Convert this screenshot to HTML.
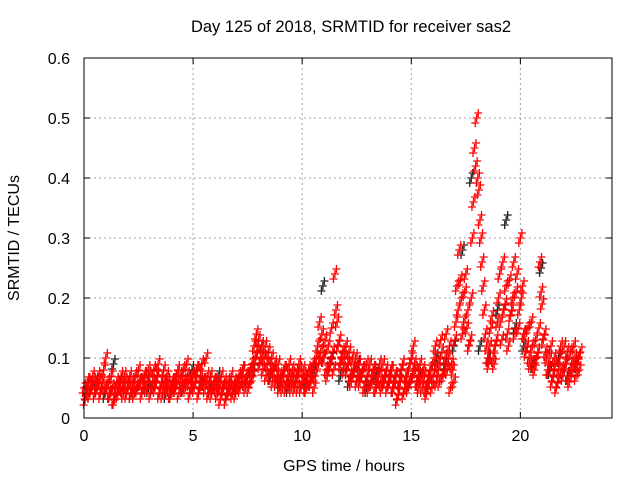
<!DOCTYPE html>
<html><head><meta charset="utf-8"><style>
body{margin:0;background:#fff}
svg text{font-family:"Liberation Sans",sans-serif;font-size:16px;fill:#000}
#chart-title{font-size:16.5px}
</style></head><body>
<svg id="chart" width="640" height="480" xmlns="http://www.w3.org/2000/svg">
<text id="chart-title" x="351" y="32" text-anchor="middle">Day 125 of 2018, SRMTID for receiver sas2</text>
<text x="344" y="471" text-anchor="middle">GPS time / hours</text>
<text transform="translate(19,238) rotate(-90)" text-anchor="middle">SRMTID / TECUs</text>
<g id="grid"></g>
<g id="ticks"></g>
<g id="black"></g>
<g id="red"></g>
<rect x="84" y="58" width="528" height="360" fill="none" stroke="#000" stroke-width="1"/>
</svg>
<script>
const xTicks=[0,5,10,15,20];
const yTicks=[0,0.1,0.2,0.3,0.4,0.5,0.6];
const yTickLabels=["0","0.1","0.2","0.3","0.4","0.5","0.6"];
const red1=[0.05,0.04,0.06,0.05,0.07,0.04,0.05,0.06,0.05,0.08,
0.10,0.06,0.04,0.05,0.03,0.06,0.05,0.07,0.04,0.06,
0.05,0.07,0.06,0.04,0.05,0.08,0.06,0.05,0.07,0.06,
0.07,0.05,0.08,0.06,0.09,0.05,0.04,0.06,0.07,0.05,
0.04,0.06,0.05,0.08,0.07,0.05,0.06,0.09,0.06,0.05,
0.07,0.06,0.08,0.05,0.09,0.06,0.10,0.04,0.07,0.05,
0.06,0.04,0.05,0.07,0.05,0.03,0.06,0.05,0.04,0.06,
0.05,0.07,0.06,0.08,0.05,0.07,0.06,0.09,0.12,0.14,
0.13,0.10,0.08,0.12,0.09,0.07,0.10,0.08,0.06,0.09,
0.07,0.05,0.08,0.06,0.09,0.05,0.07,0.06,0.05,0.08,
0.06,0.07,0.05,0.08,0.06,0.09,0.07,0.12,0.16,0.14,
0.10,0.08,0.12,0.09,0.11,0.24,0.16,0.13,0.10,0.08,
0.12,0.09,0.07,0.10,0.08,0.06,0.09,0.07,0.08,0.06,
0.07,0.09,0.06,0.08,0.05,0.07,0.06,0.09,0.07,0.05,
0.06,0.08,0.05,0.07,0.04,0.06,0.09,0.05,0.07,0.06,
0.10,0.12,0.08,0.06,0.09,0.05,0.07,0.04,0.06,0.08,
0.07,0.12,0.09,0.06,0.11,0.08,0.14,0.10,0.05,0.08,
0.13,0.22,0.28,0.20,0.16,0.24,0.18,0.13,0.30,0.45,
0.50,0.38,0.30,0.22,0.14,0.10,0.12,0.17,0.09,0.13,
0.20,0.16,0.26,0.19,0.14,0.23,0.18,0.26,0.21,0.15,
0.30,0.22,0.14,0.12,0.10,0.16,0.09,0.13,0.11,0.26,
0.19,0.14,0.10,0.08,0.12,0.07,0.09,0.06,0.10,0.08,
0.12,0.09,0.07,0.11,0.08,0.10,0.09,0.08];
const red2=[0.03,0.06,0.04,0.05,0.06,0.05,0.07,0.04,0.06,0.05,
0.05,0.04,0.07,0.03,0.05,0.04,0.06,0.05,0.07,0.04,
0.06,0.04,0.05,0.07,0.05,0.06,0.04,0.07,0.05,0.08,
0.04,0.06,0.05,0.07,0.04,0.06,0.08,0.05,0.06,0.04,
0.06,0.05,0.07,0.04,0.06,0.08,0.05,0.07,0.04,0.07,
0.05,0.08,0.04,0.07,0.06,0.05,0.07,0.06,0.04,0.06,
0.05,0.06,0.03,0.05,0.06,0.04,0.05,0.07,0.05,0.04,
0.06,0.05,0.08,0.06,0.07,0.05,0.08,0.07,0.10,0.11,
0.09,0.12,0.10,0.07,0.11,0.08,0.06,0.09,0.07,0.05,
0.06,0.08,0.05,0.07,0.06,0.08,0.05,0.07,0.09,0.05,
0.08,0.05,0.07,0.06,0.08,0.05,0.10,0.09,0.11,0.10,
0.13,0.07,0.09,0.15,0.08,0.18,0.12,0.09,0.11,0.10,
0.08,0.11,0.06,0.08,0.10,0.07,0.06,0.08,0.05,0.09,
0.05,0.06,0.08,0.05,0.07,0.09,0.05,0.06,0.08,0.06,
0.08,0.05,0.07,0.03,0.06,0.08,0.04,0.07,0.05,0.09,
0.07,0.09,0.06,0.05,0.07,0.08,0.05,0.06,0.08,0.05,
0.10,0.06,0.08,0.13,0.07,0.10,0.08,0.12,0.09,0.06,
0.16,0.18,0.23,0.14,0.21,0.15,0.12,0.20,0.36,0.42,
0.40,0.33,0.26,0.18,0.12,0.09,0.15,0.10,0.12,0.16,
0.24,0.13,0.18,0.22,0.12,0.17,0.20,0.14,0.24,0.18,
0.20,0.14,0.11,0.15,0.09,0.12,0.08,0.10,0.15,0.21,
0.13,0.11,0.08,0.10,0.06,0.10,0.05,0.08,0.12,0.07,
0.09,0.11,0.06,0.09,0.12,0.07,0.10,0.11];
const black=[0.05,0.06,0.04,0.09,0.05,0.04,0.06,0.05,0.07,0.04,0.06,0.05,0.08,0.06,0.05,0.07,0.04,0.05,0.06,0.08,0.12,0.07,0.06,0.05,0.07,0.06,0.08,0.22,0.10,0.07,0.06,0.09,0.05,0.07,0.06,0.05,0.08,0.06,0.07,0.05,0.10,0.09,0.12,0.28,0.40,0.12,0.10,0.18,0.33,0.15,0.12,0.09,0.25,0.08,0.10,0.07,0.09];
const X0=84,X1=612,Y0=418,Y1=58;
const xs=h=>X0+h*(X1-X0)/24.2;
const ys=v=>Y0-v*(Y0-Y1)/0.6;
const NS="http://www.w3.org/2000/svg";
function mk(tag,attrs,parent){const e=document.createElementNS(NS,tag);for(const k in attrs)e.setAttribute(k,attrs[k]);parent.appendChild(e);return e;}
const grid=document.getElementById('grid'),ticks=document.getElementById('ticks');
xTicks.forEach(t=>{const x=xs(t);
 if(t>0){const g=mk('line',{x1:x,x2:x,y1:Y1,y2:Y0,stroke:'#a0a0a0','stroke-dasharray':'2,3'},grid);
 
 }
 const tx=mk('text',{x:x,y:Y0+23,'text-anchor':'middle'},ticks);tx.textContent=t;
 
 
 mk('line',{x1:x,x2:x,y1:Y0,y2:Y0-6,stroke:'#000'},ticks);mk('line',{x1:x,x2:x,y1:Y1,y2:Y1+6,stroke:'#000'},ticks);});
yTicks.forEach((t,i)=>{const y=ys(t);
 if(i>0&&i<yTicks.length-1){const g=mk('line',{x1:X0,x2:X1,y1:y,y2:y,stroke:'#a0a0a0','stroke-dasharray':'2,3'},grid);
 
 }
 const tx=mk('text',{x:X0-14,y:y+6,'text-anchor':'end'},ticks);tx.textContent=yTickLabels[i];
 
 
 mk('line',{x1:X0,x2:X0+6,y1:y,y2:y,stroke:'#000'},ticks);mk('line',{x1:X1,x2:X1-6,y1:y,y2:y,stroke:'#000'},ticks);});
// each sample drawn as a small vertical cluster of '+' glyphs to mimic gnuplot's dense overplotting
const clusterDx=[0,1.5,-1.5],clusterDy=[0,-5,5];
function plus(g,h,v,col){const x0=xs(h),y0=ys(v);let d='';
 for(let k=0;k<clusterDx.length;k++){const x=x0+clusterDx[k],y=y0+clusterDy[k];d+=`M${x-4},${y}H${x+4}M${x},${y-4}V${y+4}`;}
 const p=mk('path',{d:d,stroke:col,'stroke-width':1.3,fill:'none'},g);
 
 }
const gb=document.getElementById('black'),gr=document.getElementById('red');
black.forEach((v,i)=>plus(gb,i*0.4+0.15,v,'#222'));
red1.forEach((v,i)=>plus(gr,i*0.1,v,'#ff0000'));
red2.forEach((v,i)=>plus(gr,i*0.1+0.05,v,'#ff0000'));
</script>
</body></html>
